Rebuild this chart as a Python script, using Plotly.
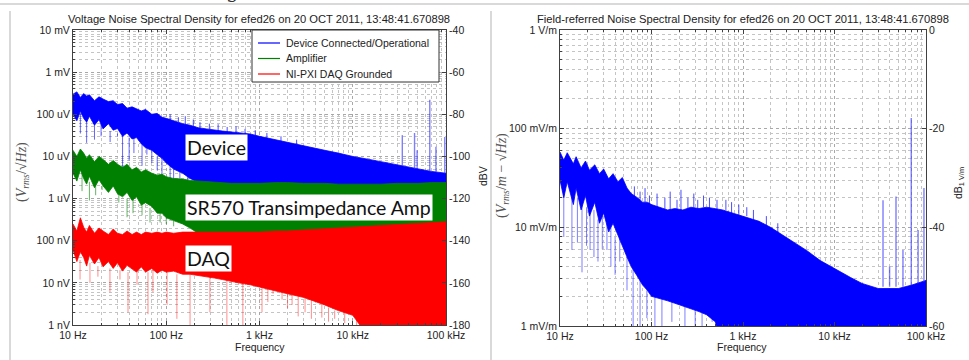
import plotly.graph_objects as go

W, H = 969, 360

# ---------------- data ----------------
freq = [10, 11, 12, 13, 14, 15, 17, 19, 21, 24,
        27, 30, 34, 38, 43, 48, 54, 60, 70, 80,
        90, 100, 120, 150, 180, 220, 270, 330, 400, 500,
        600, 800, 1000, 1500, 2000, 3000, 5000, 7000, 10000, 15000,
        20000, 30000, 50000, 70000, 100000]

# Voltage noise, Device Connected/Operational (V/sqrt(Hz)) - upper / lower edge of the trace
device_hi = [3.0e-4, 3.4e-4, 2.5e-4, 3.1e-4, 2.7e-4, 2.9e-4, 2.1e-4, 2.6e-4, 2.3e-4, 2.0e-4,
             2.1e-4, 1.7e-4, 1.8e-4, 1.4e-4, 1.5e-4, 1.35e-4, 1.2e-4, 1.3e-4, 1.0e-4, 1.05e-4,
             8.5e-5, 8.0e-5, 7.0e-5, 6.0e-5, 5.5e-5, 4.8e-5, 4.5e-5, 4.2e-5, 4.0e-5, 3.8e-5,
             3.6e-5, 3.4e-5, 3.0e-5, 2.5e-5, 2.2e-5, 1.8e-5, 1.4e-5, 1.2e-5, 1.0e-5, 8.5e-6,
             7.5e-6, 6.2e-6, 5.0e-6, 4.4e-6, 4.0e-6]
device_lo = [1.0e-4, 7.0e-5, 1.2e-4, 8.0e-5, 6.5e-5, 9.0e-5, 5.5e-5, 7.5e-5, 4.5e-5, 6.0e-5,
             4.2e-5, 4.6e-5, 3.0e-5, 3.6e-5, 2.6e-5, 2.8e-5, 2.0e-5, 1.6e-5, 1.4e-5, 1.1e-5,
             9.0e-6, 7.0e-6, 5.0e-6, 4.0e-6, 3.0e-6, 2.5e-6, 2.0e-6, 1.5e-6, 1.5e-6, 1.5e-6,
             1.5e-6, 1.5e-6, 1.5e-6, 1.5e-6, 1.5e-6, 1.5e-6, 1.5e-6, 1.5e-6, 1.5e-6, 1.5e-6,
             1.5e-6, 1.5e-6, 1.5e-6, 1.5e-6, 1.5e-6]
device_spk_f = [12, 14, 17, 20, 25, 30, 34, 40, 45, 55, 62, 70, 80, 90, 110, 120, 140, 170, 200, 240]
device_spk_base = [1.1e-4, 9.0e-5, 8.0e-5, 6.0e-5, 4.0e-5, 3.5e-5, 4.0e-5, 2.8e-5, 3.0e-5, 2.2e-5,
                   1.5e-5, 1.4e-5, 1.0e-5, 9.0e-6, 6.0e-6, 5.0e-6, 4.5e-6, 3.5e-6, 3.0e-6, 2.5e-6]
device_spk_tip = [3.5e-5, 2.1e-5, 2.5e-5, 3.0e-5, 2.2e-5, 3.0e-5, 4.7e-6, 8.0e-6, 1.2e-5, 6.0e-6,
                  1.1e-5, 7.0e-6, 4.7e-6, 3.5e-6, 2.7e-6, 2.5e-6, 3.0e-6, 2.2e-6, 2.0e-6, 2.0e-6]
# small upward excursions along the top of the blue band
device_fuzz_f = [110, 135, 160, 195, 230, 290, 360, 450, 560, 700, 900, 1200, 1700, 2500]
device_fuzz_base = [7.0e-5, 6.5e-5, 5.5e-5, 5.0e-5, 4.6e-5, 4.4e-5, 4.0e-5, 3.8e-5, 3.6e-5, 3.4e-5,
                    3.0e-5, 2.6e-5, 2.3e-5, 1.9e-5]
device_fuzz_tip = [1.0e-4, 8.5e-5, 9.0e-5, 7.5e-5, 6.5e-5, 6.0e-5, 5.8e-5, 5.0e-5, 5.2e-5, 4.5e-5,
                   4.2e-5, 3.6e-5, 3.0e-5, 2.5e-5]
device_peak_f = [34000, 46000, 49000, 67000, 78000, 97000]
device_peak_base = [6.0e-6, 5.0e-6, 5.0e-6, 4.5e-6, 4.3e-6, 4.0e-6]
device_peak_tip = [3.2e-5, 3.6e-5, 1.4e-5, 2.2e-4, 1.7e-5, 2.9e-5]

# Amplifier (SR570)
amp_hi = [1.4e-5, 1.0e-5, 1.5e-5, 1.2e-5, 9.0e-6, 1.1e-5, 7.5e-6, 1.0e-5, 8.5e-6, 6.5e-6,
          8.0e-6, 6.5e-6, 5.5e-6, 6.5e-6, 4.8e-6, 5.5e-6, 4.3e-6, 4.8e-6, 4.0e-6, 3.6e-6,
          3.8e-6, 3.3e-6, 3.0e-6, 2.9e-6, 2.7e-6, 2.6e-6, 2.5e-6, 2.4e-6, 2.4e-6, 2.3e-6,
          2.3e-6, 2.3e-6, 2.3e-6, 2.4e-6, 2.4e-6, 2.3e-6, 2.3e-6, 2.2e-6, 2.2e-6, 2.2e-6,
          2.2e-6, 2.3e-6, 2.3e-6, 2.4e-6, 2.4e-6]
amp_lo = [4.0e-6, 2.6e-6, 4.8e-6, 3.0e-6, 2.2e-6, 3.4e-6, 1.8e-6, 2.8e-6, 2.0e-6, 1.4e-6,
          2.0e-6, 1.3e-6, 1.1e-6, 1.4e-6, 9.0e-7, 1.1e-6, 7.0e-7, 8.0e-7, 6.5e-7, 4.5e-7,
          4.5e-7, 3.5e-7, 3.0e-7, 2.5e-7, 2.0e-7, 1.5e-7, 1.5e-7, 1.5e-7, 1.5e-7, 1.5e-7,
          1.5e-7, 1.5e-7, 1.5e-7, 1.5e-7, 1.5e-7, 1.5e-7, 1.5e-7, 1.5e-7, 1.5e-7, 1.5e-7,
          1.5e-7, 1.5e-7, 1.5e-7, 1.5e-7, 1.5e-7]
amp_spk_f = [12.5, 15, 17.5, 20.5, 26, 31, 38, 44, 55, 67, 86, 100, 120]
amp_spk_base = [4.0e-6, 2.5e-6, 3.0e-6, 2.0e-6, 1.6e-6, 1.3e-6, 1.0e-6, 1.2e-6, 9.0e-7, 6.0e-7, 4.5e-7, 3.5e-7, 3.0e-7]
amp_spk_tip = [1.5e-6, 9.0e-7, 1.2e-6, 1.6e-6, 1.6e-6, 8.0e-7, 3.6e-7, 4.5e-7, 4.0e-7, 2.7e-7, 2.7e-7, 2.5e-7, 2.2e-7]

# NI-PXI DAQ Grounded
daq_hi = [2.5e-7, 1.7e-7, 3.5e-7, 2.1e-7, 1.6e-7, 2.3e-7, 1.5e-7, 2.0e-7, 1.7e-7, 1.4e-7,
          1.9e-7, 1.5e-7, 1.4e-7, 1.7e-7, 1.4e-7, 1.6e-7, 1.4e-7, 1.6e-7, 1.5e-7, 1.6e-7,
          1.5e-7, 1.6e-7, 1.5e-7, 1.6e-7, 1.6e-7, 1.6e-7, 1.6e-7, 1.6e-7, 1.6e-7, 1.6e-7,
          1.6e-7, 1.6e-7, 1.6e-7, 1.7e-7, 1.7e-7, 1.8e-7, 1.9e-7, 2.0e-7, 2.1e-7, 2.2e-7,
          2.3e-7, 2.4e-7, 2.6e-7, 2.7e-7, 2.8e-7]
daq_lo = [6.0e-8, 3.2e-8, 5.5e-8, 4.0e-8, 2.5e-8, 4.5e-8, 2.8e-8, 4.0e-8, 2.4e-8, 3.2e-8,
          2.2e-8, 3.0e-8, 1.9e-8, 2.6e-8, 2.1e-8, 1.8e-8, 2.4e-8, 1.8e-8, 2.2e-8, 1.7e-8,
          2.0e-8, 1.8e-8, 1.9e-8, 1.6e-8, 1.6e-8, 1.5e-8, 1.4e-8, 1.3e-8, 1.2e-8, 1.1e-8,
          1.0e-8, 9.0e-9, 8.0e-9, 6.5e-9, 5.5e-9, 4.5e-9, 3.0e-9, 2.2e-9, 1.7e-9, 5.0e-10,
          5.0e-10, 5.0e-10, 5.0e-10, 5.0e-10, 5.0e-10]
daq_spk_f = [11.9, 15.2, 18.5, 24.9, 31.9, 38.9, 48.6, 63.7, 72, 102, 130, 180, 294, 447, 663,
             1064, 1230, 1397, 1745, 2000, 2235, 2600, 3080, 3600, 4660, 5500, 6400, 8200, 11000, 13000]
daq_spk_base = [3.5e-8, 3.0e-8, 2.5e-8, 2.2e-8, 2.0e-8, 1.8e-8, 2.0e-8, 1.8e-8, 2.2e-8, 1.8e-8,
                1.6e-8, 1.6e-8, 1.4e-8, 1.2e-8, 1.0e-8, 8.0e-9, 7.5e-9, 7.0e-9, 6.5e-9, 6.0e-9,
                5.5e-9, 5.0e-9, 4.5e-9, 4.0e-9, 3.0e-9, 2.6e-9, 2.2e-9, 2.0e-9, 1.6e-9, 1.2e-9]
daq_spk_tip = [1.2e-8, 1.0e-8, 1.4e-8, 6.0e-9, 1.2e-8, 2.0e-9, 9.0e-9, 1.8e-9, 6.0e-9, 3.0e-9,
               1.4e-9, 1.0e-9, 2.0e-9, 1.0e-9, 1.0e-9, 2.0e-9, 3.5e-9, 5.5e-9, 4.0e-9, 2.5e-9,
               3.0e-9, 1.6e-9, 2.0e-9, 1.4e-9, 1.5e-9, 1.2e-9, 1.4e-9, 1.1e-9, 1.0e-9, 1.0e-9]

# Field-referred noise (V/m/sqrt(Hz))
field_hi = [0.058, 0.048, 0.057, 0.050, 0.044, 0.052, 0.040, 0.047, 0.038, 0.043,
            0.035, 0.039, 0.031, 0.035, 0.029, 0.032, 0.025, 0.022, 0.020, 0.018,
            0.018, 0.017, 0.016, 0.015, 0.0155, 0.015, 0.016, 0.0155, 0.016, 0.0155,
            0.015, 0.0138, 0.013, 0.0115, 0.0100, 0.0078, 0.0058, 0.0046, 0.0038, 0.0031,
            0.0027, 0.0024, 0.0024, 0.0026, 0.0029]
field_lo = [0.030, 0.020, 0.029, 0.022, 0.017, 0.025, 0.015, 0.021, 0.013, 0.018,
            0.011, 0.014, 0.009, 0.011, 0.008, 0.0065, 0.005, 0.004, 0.0032, 0.0026,
            0.0023, 0.0020, 0.0019, 0.0018, 0.0017, 0.0016, 0.0015, 0.0014, 0.0013, 0.0011,
            0.0005, 0.0005, 0.0005, 0.0005, 0.0005, 0.0005, 0.0005, 0.0005, 0.0005, 0.0005,
            0.0005, 0.0005, 0.0005, 0.0005, 0.0005]
field_spk_f = [11, 13.5, 15.5, 17.4, 19.5, 21.3, 23.5, 26, 29, 32.6, 36, 40, 45, 54, 63, 75, 89,
               109, 130, 167, 232, 300, 357, 460]
field_spk_base = [0.022, 0.025, 0.020, 0.021, 0.016, 0.018, 0.015, 0.012, 0.013, 0.011, 0.010,
                  0.008, 0.008, 0.005, 0.004, 0.0032, 0.0023, 0.0020, 0.0019, 0.0018, 0.0016,
                  0.0015, 0.0014, 0.0012]
field_spk_tip = [0.0080, 0.0059, 0.0070, 0.0035, 0.0065, 0.0059, 0.0050, 0.0045, 0.0060, 0.0059,
                 0.0040, 0.0033, 0.0045, 0.0023, 0.0009, 0.0009, 0.0012, 0.0009, 0.0009, 0.0011,
                 0.0009, 0.0009, 0.0009, 0.0011]
# small upward excursions along the top of the field band
field_fuzz_f = [65, 75, 85, 95, 115, 140, 160, 190, 210, 250, 290, 320, 370, 430, 520, 650,
                750, 900, 1100, 1300, 1800, 2400]
field_fuzz_base = [0.020, 0.019, 0.018, 0.017, 0.016, 0.015, 0.015, 0.015, 0.015, 0.015, 0.016,
                   0.015, 0.016, 0.015, 0.015, 0.015, 0.014, 0.013, 0.013, 0.012, 0.010, 0.009]
field_fuzz_tip = [0.026, 0.023, 0.025, 0.021, 0.022, 0.020, 0.023, 0.019, 0.024, 0.020, 0.022,
                  0.019, 0.021, 0.020, 0.019, 0.019, 0.018, 0.017, 0.016, 0.015, 0.013, 0.011]
field_peak_f = [33900, 40000, 47000, 56000, 69000, 82000, 95000]
field_peak_base = [0.0025, 0.0025, 0.0025, 0.0025, 0.0026, 0.0027, 0.0028]
field_peak_tip = [0.0188, 0.0040, 0.0205, 0.0059, 0.128, 0.0094, 0.025]

# tick labels
freq_ticks = [10, 100, 1000, 10000, 100000]
freq_labels = ["10 Hz", "100 Hz", "1 kHz", "10 kHz", "100 kHz"]
volt_ticks = [1e-9, 1e-8, 1e-7, 1e-6, 1e-5, 1e-4, 1e-3, 1e-2]
volt_labels = ["1 nV", "10 nV", "100 nV", "1 uV", "10 uV", "100 uV", "1 mV", "10 mV"]
dbv_ticks = [-180, -160, -140, -120, -100, -80, -60, -40]
field_ticks = [1e-3, 1e-2, 1e-1, 1]
field_labels = ["1 mV/m", "10 mV/m", "100 mV/m", "1 V/m"]
db_ticks = [-60, -40, -20, 0]

series_names = ["Device Connected/Operational", "Amplifier", "NI-PXI DAQ Grounded"]
BLUE, GREEN, RED = "#0000ff", "#008000", "#ff0000"
series_colors = [BLUE, GREEN, RED]

# ---------------- figure ----------------
def px(x):
    return x / W

def py(y):
    return 1 - y / H

fig = go.Figure()

def band(fx, hi, lo, color, xa, ya):
    xs = list(fx) + list(fx)[::-1]
    ys = list(hi) + list(lo)[::-1]
    fig.add_trace(go.Scatter(x=xs, y=ys, xaxis=xa, yaxis=ya, mode="lines", fill="toself",
                             fillcolor=color, line=dict(color=color, width=0.8),
                             showlegend=False, hoverinfo="skip"))

def spikes(fx, base, tip, color, xa, ya, width=1.0):
    xs, ys = [], []
    for f, b, t in zip(fx, base, tip):
        xs += [f, f, None]
        ys += [b, t, None]
    fig.add_trace(go.Scatter(x=xs, y=ys, xaxis=xa, yaxis=ya, mode="lines",
                             line=dict(color=color, width=width), showlegend=False,
                             hoverinfo="skip"))

# left panel
band(freq, device_hi, device_lo, BLUE, "x", "y")
spikes(device_spk_f, device_spk_base, device_spk_tip, "rgba(0,0,255,0.6)", "x", "y")
spikes(device_fuzz_f, device_fuzz_base, device_fuzz_tip, "rgba(0,0,255,0.7)", "x", "y")
spikes(device_peak_f, device_peak_base, device_peak_tip, "rgba(40,40,255,0.6)", "x", "y", 1.4)
band(freq, amp_hi, amp_lo, GREEN, "x", "y")
spikes(amp_spk_f, amp_spk_base, amp_spk_tip, "rgba(0,128,0,0.6)", "x", "y")
band(freq, daq_hi, daq_lo, RED, "x", "y")
spikes(daq_spk_f, daq_spk_base, daq_spk_tip, "rgba(255,0,0,0.45)", "x", "y")

# dummy trace for the dB axis of the left panel
fig.add_trace(go.Scatter(x=[1e9], y=[0], xaxis="x", yaxis="y2", mode="lines",
                         showlegend=False, hoverinfo="skip"))

# right panel
band(freq, field_hi, field_lo, BLUE, "x2", "y3")
spikes(field_spk_f, field_spk_base, field_spk_tip, "rgba(0,0,255,0.5)", "x2", "y3")
spikes(field_fuzz_f, field_fuzz_base, field_fuzz_tip, "rgba(0,0,255,0.7)", "x2", "y3")
spikes(field_peak_f, field_peak_base, field_peak_tip, "rgba(40,40,255,0.6)", "x2", "y3", 1.4)
fig.add_trace(go.Scatter(x=[1e9], y=[0], xaxis="x2", yaxis="y4", mode="lines",
                         showlegend=False, hoverinfo="skip"))

TICKFONT = dict(family="Liberation Sans, Arial, sans-serif", size=10.5, color="#222")
AXCOL = "#404040"
GRID = dict(showgrid=True, gridcolor="#a8a8a8", griddash="dot", gridwidth=1)
MINOR = dict(showgrid=True, gridcolor="#c4c4c4", griddash="dot", gridwidth=1,
             ticks="inside", ticklen=2, tickcolor=AXCOL, dtick="D1")

def xaxis_cfg(domain, anchor):
    return dict(domain=domain, anchor=anchor, type="log", range=[1, 5],
                tickmode="array", tickvals=freq_ticks, ticktext=freq_labels,
                tickfont=TICKFONT, ticks="inside", ticklen=4, tickcolor=AXCOL,
                showline=True, linecolor=AXCOL, linewidth=1, mirror="ticks",
                zeroline=False, automargin=False, minor=MINOR, **GRID)

def ylog_cfg(domain, anchor, rng, tv, tt):
    return dict(domain=domain, anchor=anchor, type="log", range=rng,
                tickmode="array", tickvals=tv, ticktext=tt,
                tickfont=TICKFONT, ticks="inside", ticklen=4, tickcolor=AXCOL,
                showline=True, linecolor=AXCOL, linewidth=1, mirror=True,
                zeroline=False, automargin=False, minor=MINOR, **GRID)

def ydb_cfg(over, anchor, rng, tv):
    return dict(overlaying=over, anchor=anchor, side="right", range=rng,
                tickmode="array", tickvals=tv, ticktext=[str(v) for v in tv],
                tickfont=TICKFONT, ticks="inside", ticklen=4, tickcolor=AXCOL,
                showline=True, linecolor=AXCOL, linewidth=1, showgrid=False,
                zeroline=False, automargin=False)

fig.update_layout(
    width=W, height=H, margin=dict(l=0, r=0, t=0, b=0),
    paper_bgcolor="white", plot_bgcolor="white", showlegend=False,
    xaxis=xaxis_cfg([px(73), px(446)], "y"),
    yaxis=ylog_cfg([py(325), py(30)], "x", [-9, -2], volt_ticks, volt_labels),
    yaxis2=ydb_cfg("y", "x", [-180, -40], dbv_ticks),
    xaxis2=xaxis_cfg([px(560), px(926)], "y3"),
    yaxis3=ylog_cfg([py(326), py(30)], "x2", [-3, 0], field_ticks, field_labels),
    yaxis4=ydb_cfg("y3", "x2", [-60, 0], db_ticks),
)

TFONT = dict(family="Liberation Sans, Arial, sans-serif", size=11.2, color="#222")
LFONT = dict(family="Liberation Sans, Arial, sans-serif", size=10.5, color="#222")
MFONT = dict(family="Liberation Serif, DejaVu Serif, serif", size=14, color="#555")
LABFONT = dict(family="Lato, Open Sans, sans-serif", size=19.5, color="#111")

def ann(text, x, y, font, xanchor="center", **kw):
    fig.add_annotation(text=text, x=px(x), y=py(y), xref="paper", yref="paper",
                       xanchor=xanchor, yanchor="middle",
                       showarrow=False, font=font, **kw)

ann("Voltage Noise Spectral Density for efed26 on 20 OCT 2011, 13:48:41.670898", 259, 19, TFONT)
ann("Field-referred Noise Spectral Density for efed26 on 20 OCT 2011, 13:48:41.670898", 743, 19, TFONT)
ann("Frequency", 260, 347, LFONT)
ann("Frequency", 742, 347, LFONT)
ann("(<i>V<sub>rms</sub></i>/√<i>Hz</i>)", 22, 172, MFONT, textangle=-90)
ann("dBV", 483, 176, LFONT, textangle=-90)
ann("(<i>V<sub>rms</sub></i>/<i>m</i> − √<i>Hz</i>)", 502, 176, MFONT, textangle=-90)
ann("dB<sub>1 V/m</sub>", 959, 183, LFONT, textangle=-90)

# legend box (MATLAB style) built from the series names and colours
fig.add_shape(type="rect", xref="paper", yref="paper", x0=px(252), x1=px(439),
              y0=py(82), y1=py(30), fillcolor="white", line=dict(color="#333", width=1),
              layer="above")
for i, (name, col) in enumerate(zip(series_names, series_colors)):
    yy = 43 + i * 15.5
    fig.add_shape(type="line", xref="paper", yref="paper", x0=px(258), x1=px(280),
                  y0=py(yy), y1=py(yy), line=dict(color=col, width=1.2), layer="above")
    ann(name, 284, yy, LFONT, xanchor="left")

ann("Device", 185, 147, LABFONT, xanchor="left", bgcolor="white", borderpad=1)
ann("SR570 Transimpedance Amp", 185, 208, LABFONT, xanchor="left", bgcolor="white", borderpad=1)
ann("DAQ", 185, 258, LABFONT, xanchor="left", bgcolor="white", borderpad=1)

# cropped handwriting fragment at the very top of the page
fig.add_annotation(text="g", x=px(232), y=py(5), xref="paper", yref="paper", showarrow=False,
                   xanchor="center", yanchor="bottom",
                   font=dict(family="DejaVu Serif", size=20, color="#333"))

# page frame lines
LINE = dict(color="#cccccc", width=1.5)
fig.add_shape(type="line", xref="paper", yref="paper", x0=0, x1=1, y0=py(4), y1=py(4), line=LINE)
fig.add_shape(type="line", xref="paper", yref="paper", x0=px(10), x1=px(10), y0=0, y1=py(11), line=LINE)
fig.add_shape(type="line", xref="paper", yref="paper", x0=px(491), x1=px(491), y0=0, y1=py(11), line=LINE)

fig.write_html("out.html")
